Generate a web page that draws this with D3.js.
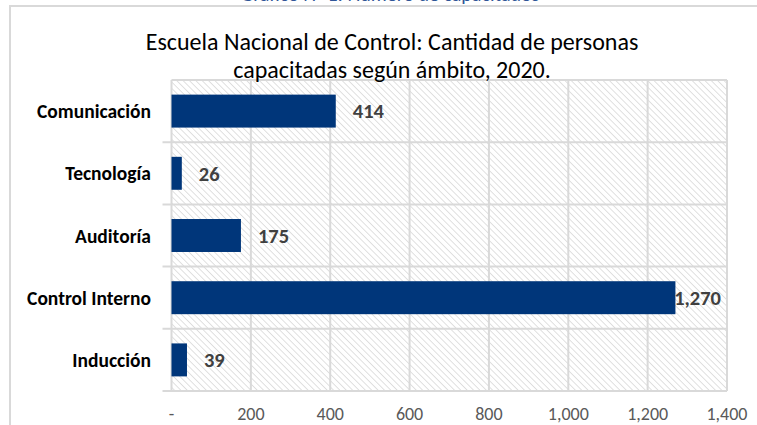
<!DOCTYPE html>
<html>
<head>
<meta charset="utf-8">
<script src="https://cdn.jsdelivr.net/npm/d3@7"></script>
<style>
  body { margin: 0; background: #fff; }
  svg text { font-family: Carlito, "Liberation Sans Narrow", "Liberation Sans", sans-serif; }
</style>
</head>
<body>
<div id="chart-area"></div>
<script>
// data
var categories = ["Comunicación", "Tecnología", "Auditoría", "Control Interno", "Inducción"];
var values = [414, 26, 175, 1270, 39];
var tickValues = [0, 200, 400, 600, 800, 1000, 1200, 1400];
var titleLines = ["Escuela Nacional de Control: Cantidad de personas", "capacitadas según ámbito, 2020."];

var width = 757, height = 425;
var plot = {left: 171.5, right: 727, top: 80, bottom: 391};

var svg = d3.select("#chart-area").append("svg")
	.attr("width", width)
	.attr("height", height);

// hatch pattern for plot background
var pat = svg.append("defs").append("pattern")
	.attr("id", "hatch")
	.attr("patternUnits", "userSpaceOnUse")
	.attr("width", 4.5).attr("height", 4.5)
	.attr("patternTransform", "rotate(-45)");
pat.append("line")
	.attr("x1", 0).attr("y1", 0).attr("x2", 0).attr("y2", 4.5)
	.attr("stroke", "#d6d6d6").attr("stroke-width", 1.5);

// caption of the document, cut at the top
svg.append("text")
	.attr("x", 390).attr("y", 1)
	.attr("text-anchor", "middle")
	.attr("font-size", "20px")
	.style("fill", "#2f5597")
	.text("Gráfico N° 1: Número de capacitados");

// chart border
svg.append("path")
	.attr("d", "M10," + height + "V6H" + width)
	.attr("fill", "none")
	.attr("stroke", "#d9d9d9")
	.attr("stroke-width", 2);

var x = d3.scaleLinear()
	.domain([0, 1400])
	.range([plot.left, plot.right]);

var y = d3.scaleBand()
	.domain(categories)
	.range([plot.top, plot.bottom])
	.paddingInner(0.47)
	.paddingOuter(0.235);

var band = d3.scaleBand()
	.domain(categories)
	.range([plot.top, plot.bottom]);

svg.append("rect")
	.attr("x", plot.left).attr("y", plot.top)
	.attr("width", plot.right - plot.left)
	.attr("height", plot.bottom - plot.top)
	.attr("fill", "url(#hatch)");

// vertical gridlines
svg.append("g")
	.selectAll("line")
	.data(tickValues)
	.enter().append("line")
		.attr("x1", (d) => x(d)).attr("x2", (d) => x(d))
		.attr("y1", plot.top).attr("y2", plot.bottom)
		.attr("stroke", "#d9d9d9").attr("stroke-width", 2);

// horizontal category lines + ticks
var hlines = categories.map((d) => band(d)).concat([plot.bottom]);
svg.append("g")
	.selectAll("line")
	.data(hlines)
	.enter().append("line")
		.attr("x1", (d, i) => i == 0 ? plot.left : plot.left - 9)
		.attr("x2", plot.right)
		.attr("y1", (d) => d).attr("y2", (d) => d)
		.attr("stroke", "#d9d9d9").attr("stroke-width", 2);

var data = categories.map((c, i) => ({cat: c, value: values[i]}));

svg.append("g")
	.selectAll("rect")
	.data(data)
	.enter().append("rect")
		.attr("x", x(0))
		.attr("y", (d) => y(d.cat))
		.attr("width", (d) => x(d.value) - x(0))
		.attr("height", y.bandwidth())
		.attr("fill", "#00367a");

// value labels
var fmt = d3.format(",");
svg.append("g")
	.selectAll("text")
	.data(data)
	.enter().append("text")
		.attr("y", (d) => y(d.cat) + y.bandwidth() / 2)
		.attr("dy", "0.36em")
		.attr("font-size", "20.5px")
		.attr("font-weight", "bold")
		.style("fill", "#404040")
		.text((d) => fmt(d.value))
		.attr("x", function(d) {
			var w = this.getComputedTextLength();
			return Math.min(x(d.value) + 17, plot.right - 6 - w);
		});

// category labels
svg.append("g")
	.selectAll("text")
	.data(categories)
	.enter().append("text")
		.attr("x", 151)
		.attr("y", (d) => y(d) + y.bandwidth() / 2)
		.attr("dy", "0.36em")
		.attr("text-anchor", "end")
		.attr("font-size", "19.5px")
		.attr("font-weight", "bold")
		.style("fill", "#000")
		.text((d) => d);

// x tick labels
svg.append("g")
	.selectAll("text")
	.data(tickValues)
	.enter().append("text")
		.attr("x", (d) => x(d))
		.attr("y", 414)
		.attr("dy", "0.36em")
		.attr("text-anchor", "middle")
		.attr("font-size", "18px")
		.style("fill", "#595959")
		.text((d) => d == 0 ? "-" : fmt(d));

// title
svg.append("g")
	.selectAll("text")
	.data(titleLines)
	.enter().append("text")
		.attr("x", 392)
		.attr("y", (d, i) => 50 + i * 28)
		.attr("text-anchor", "middle")
		.attr("font-size", "24px")
		.style("fill", "#000")
		.text((d) => d);
</script>
</body>
</html>
